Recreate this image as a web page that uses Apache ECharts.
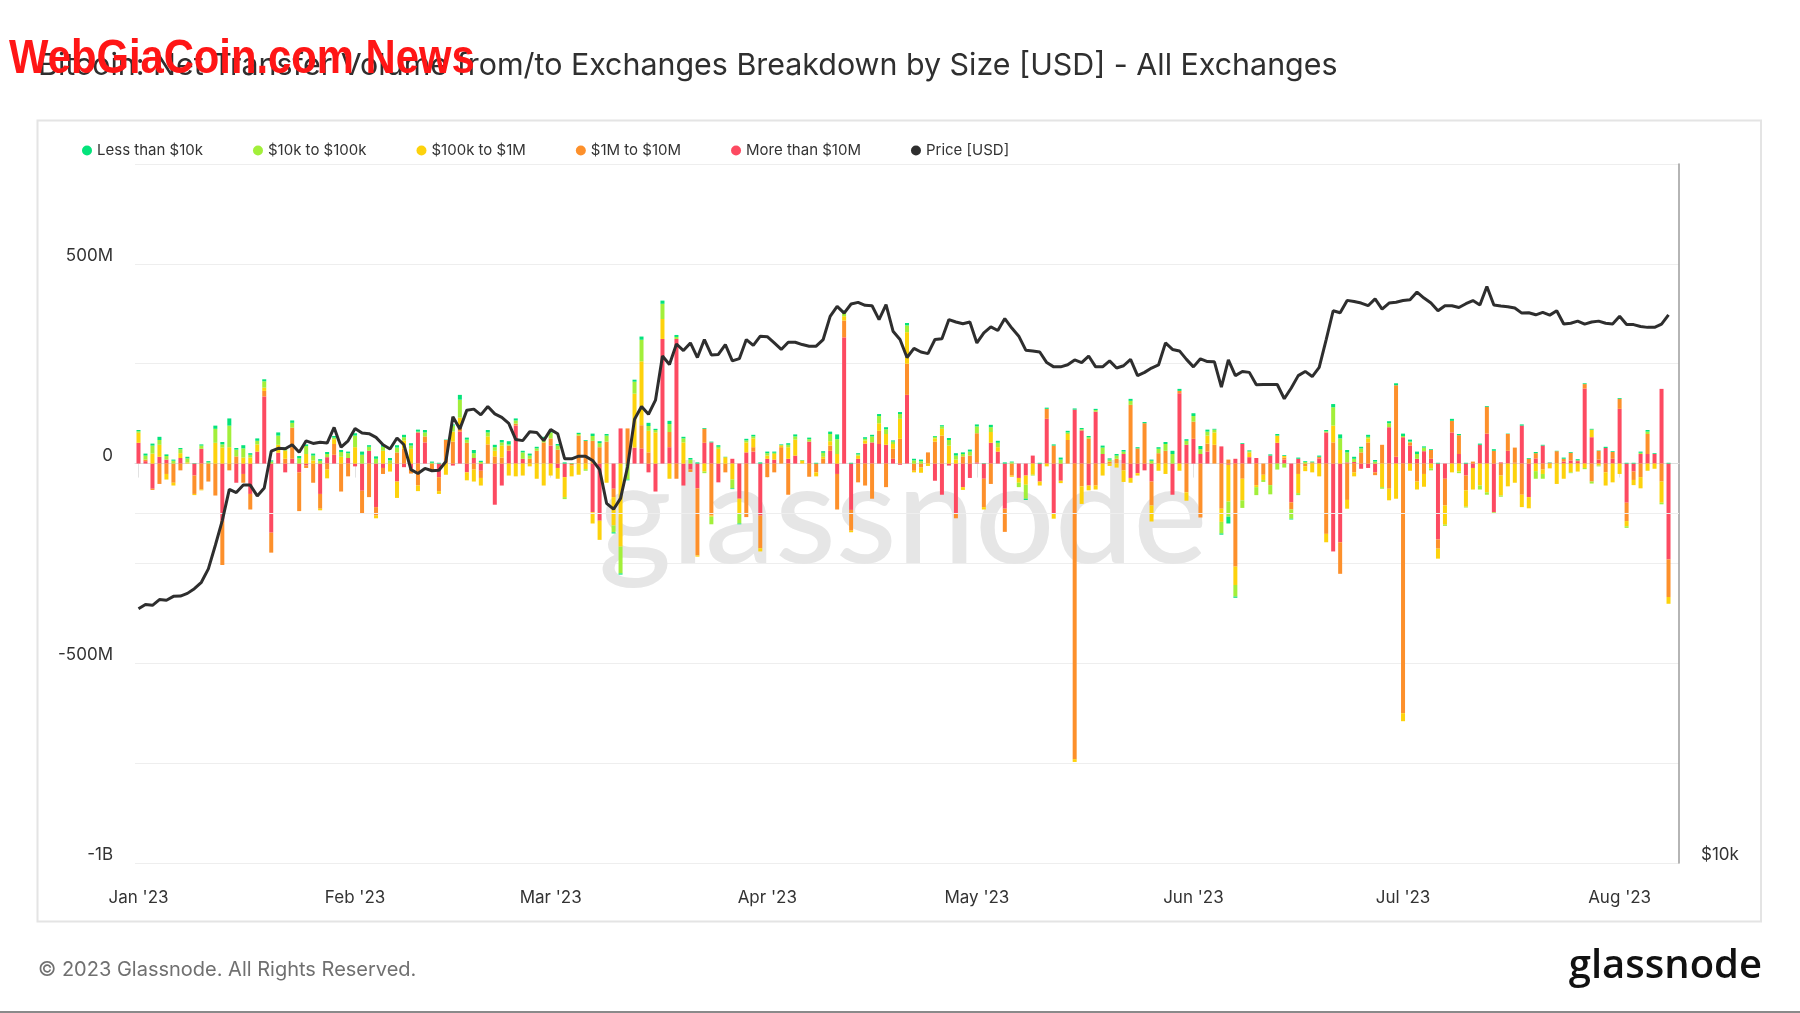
<!DOCTYPE html>
<html><head><meta charset="utf-8">
<script src="https://cdn.jsdelivr.net/npm/echarts@6/dist/echarts.min.js"></script>
<style>html,body{margin:0;padding:0;background:#fff;}#c{width:1800px;height:1013px;}</style>
</head><body><div id="c"></div>
<script>
// Daily net transfer volume by size band, in millions of USD (Jan 1 2023 .. Aug 8 2023)
const red = [52,6,-63,17,10,0,14,0,-30,37, 0,0,-143,0,-48,-26,-76,30,168,-173, 27,-22,12,-22,-5,0,-76,16,22,0, 14,-7,-68,32,-109,-11,0,-45,-9,-13, 78,53,0,-34,0,-5,80,-22,14,-18, 0,-103,-55,32,95,12,0,0,0,45, -11,-34,0,0,0,-122,-143,0,-63,88, 0,40,38,-22,-70,312,41,312,-55,-15, -62,52,53,-47,0,12,-88,28,30,-130, 12,10,0,12,20,0,55,0,0,32, -26,316,-116,12,50,53,49,47,12,-3, 172,0,0,0,-43,-78,-5,-126,-59,-36, 3,-38,52,30,-113,0,-36,-30,20,-45, 112,-126,-43,0,135,83,-55,130,24,0, 0,24,-36,-24,-17,-45,0,0,-78,176, 47,62,24,30,0,43,-3,12,49,16, 14,0,20,52,10,-97,12,0,0,13, 78,-220,-197,3,4,-13,-11,-22,0,91, 17,66,45,12,31,12,-190,-38,78,24, -30,-11,47,75,-122,3,32,2,95,-84, 13,45,2,0,5,8,6,188,66,10, 39,12,137,-98,-20,24,24,24,187,-240];
const orange = [0,4,-3,-51,-26,-48,-17,0,-46,-65, -45,-80,-111,-17,18,-22,-39,0,14,-50, 0,12,78,-97,-6,-48,-37,-15,27,-70, -32,0,-58,-84,-21,-15,0,28,37,-12, -55,15,-20,-35,59,55,10,52,-15,-18, 48,18,15,13,5,0,12,32,53,18, 35,0,-5,70,57,57,41,55,-21,0, 88,0,58,28,0,0,38,-38,0,-6, -168,35,-130,0,-22,0,0,-134,11,-82, -34,-22,41,-78,0,0,-33,-22,12,13, -89,42,-52,-47,-55,-88,33,-59,25,62, 78,-18,-10,28,55,70,0,-11,18,20, 73,-71,-51,0,-58,-30,0,0,0,0, 25,45,0,59,-740,-57,62,-55,0,5, 12,-17,147,38,101,-60,26,32,0,6, -72,43,-135,20,47,-113,10,-258,-38,0, -54,-28,-54,0,5,-18,-26,-7,3,4, -176,53,-79,-91,-22,28,53,-7,47,-63, 179,-625,8,-45,-26,22,-23,-67,29,47, -37,5,0,67,32,-30,42,38,-78,12, 13,-15,0,31,7,19,2,11,-45,22, -22,17,25,-46,-21,-34,50,0,-45,-94];
const yellow = [25,0,25,30,-14,-7,12,3,-3,-2, 0,52,40,41,0,15,15,18,8,0, 20,20,0,0,24,8,-4,-22,12,17, 0,41,0,0,-7,32,-20,-41,21,37, -14,0,0,-7,-28,25,25,-20,-30,-19, 20,14,30,-30,-32,-30,-7,-38,-55,-30, -27,-50,-27,-28,-14,-28,-48,-48,-71,-208, 0,135,160,54,78,50,-38,0,53,0, -3,-20,-3,37,16,-40,-37,25,22,-8, 8,14,5,29,40,8,0,-10,5,11, 24,11,-4,8,8,0,19,27,12,50, 79,-4,-13,-6,8,17,45,10,-7,0, 0,-6,27,11,0,-3,-12,-23,-28,-10, -7,-12,-6,15,-7,-44,-12,-10,-30,-6, -10,-29,-12,-6,0,-40,-18,-26,0,-18, -21,0,0,20,31,-33,-92,-46,-54,12, -5,-13,0,18,4,0,-48,-12,-22,-32, -21,42,34,-22,-10,0,10,0,-59,-29, -88,-20,-18,-20,-32,-12,-25,-48,-22,-20, -41,-54,-55,-72,0,-50,-57,-48,-31,-28, -19,-11,-12,-51,-38,-22,-20,-11,19,-5, -33,-47,-26,-13,-13,-28,-18,-13,-53,-17];
const lime = [4,10,20,12,9,7,10,10,0,8, 3,35,8,54,17,23,7,9,16,5, 23,5,12,13,20,12,7,8,4,12, 12,29,22,10,12,10,8,12,8,8, 2,10,2,0,0,15,45,8,12,4, 10,9,8,3,8,16,8,6,10,15, 10,-5,0,4,-4,12,10,15,-17,-67, -40,30,54,12,6,38,20,5,10,10, 0,-4,-19,5,0,-22,-25,5,5,0, 6,3,0,6,8,0,6,0,10,18, 37,10,0,3,4,15,18,12,6,12, 17,8,6,0,4,6,14,10,6,10, 17,0,12,11,0,3,-11,-35,-2,0, 0,0,10,4,0,3,4,4,16,5, 8,6,10,0,0,7,11,17,24,0, 10,14,12,10,7,-29,-38,-29,-19,3, -20,-5,-23,-15,-10,-23,-5,4,0,0, 3,46,29,25,8,10,4,5,-4,10, 0,3,2,12,9,-5,0,-3,0,-4, -2,0,-10,-6,-4,-3,0,0,0,0, -19,-12,0,0,0,-2,0,-3,-5,-2, 0,0,0,-4,0,3,6,0,-4,0];
const green = [3,5,5,8,4,3,3,4,1,3, 3,8,6,18,4,8,4,6,5,3, 8,4,6,6,4,5,4,5,4,5, 4,6,8,4,6,5,6,6,6,6, 5,6,3,2,1,3,12,5,8,3, 6,6,6,8,5,4,5,4,4,5, 4,3,1,3,2,6,5,4,-3,-3, -2,5,8,8,3,8,8,5,4,4, 3,2,2,4,1,-2,-2,4,4,3, 4,3,2,4,5,1,4,2,4,6, 12,4,2,3,4,4,5,5,3,5, 6,4,4,0,2,3,5,6,4,5, 5,1,6,5,3,2,0,-3,0,2, 3,3,5,4,3,3,3,3,5,3, 4,4,5,3,3,3,4,5,8,5, 4,7,8,5,2,-3,-17,-3,2,2, 0,0,3,4,2,-2,3,2,2,3, 3,8,10,6,5,4,5,4,0,5, 5,6,5,6,3,2,2,0,5,3, 2,0,3,2,4,0,1,0,3,2, 3,2,1,1,3,2,3,2,2,1, 3,2,2,2,2,3,4,2,0,2];
// BTC price, USD
const price = [16560,16700,16670,16860,16840,16970,16980,17070,17230,17450, 17920,18780,19730,20980,20850,21160,21160,20710,21040,22630, 22760,22740,22920,22580,23100,22980,23040,23000,23720,22810, 23100,23670,23460,23430,23260,22920,22730,23230,22920,21820, 21650,21870,21770,21790,22170,24230,23650,24550,24600,24320, 24730,24370,24200,23910,23160,23110,23520,23490,23110,23620, 23430,22290,22290,22410,22400,22220,21820,20410,20170,20610, 21940,24110,24730,24350,25040,27330,26880,27990,27630,28050, 27250,28240,27390,27420,27960,27070,27190,28240,27910,28430, 28400,28050,27690,28090,28090,27960,27870,27870,28240,29570, 30160,29760,30300,30400,30220,30200,29380,30260,28710,28240, 27250,27750,27550,27460,28240,28280,29380,29240,29140,29240, 28050,28620,28960,28750,29440,28890,28430,27650,27610,27550, 26980,26750,26750,26860,27120,26980,27330,26750,26750,27070, 26690,26810,27150,26290,26460,26690,26850,28050,27690,27610, 27150,26750,27180,27030,27020,25700,27120,26290,26510,26460, 25820,25830,25830,25830,25110,25650,26290,26510,26240,26720, 28240,29900,29780,30520,30450,30360,30200,30610,30000,30360, 30410,30510,30560,31030,30660,30360,29900,30200,30200,30090, 30320,30510,30240,31370,30240,30180,30140,30060,29760,29780, 29660,29800,29640,29900,29120,29170,29290,29120,29240,29290, 29170,29120,29570,29090,29090,28980,28930,28930,29120,29660];
const leftTickLabels = {'500':'500M','0':'0','-500':'-500M','-1000':'-1B'};
const priceGridValue = 20000;
const monthNames = ['Jan','Feb','Mar','Apr','May','Jun','Jul','Aug','Sep','Oct','Nov','Dec'];

const dates = [];
for (let i = 0; i < 221; i++) {
  const d = new Date(Date.UTC(2023, 0, 1 + i));
  dates.push(d.toISOString().slice(0, 10));
}
const isMonthStart = (idx, val) => val.slice(8) === '01';
const FONT = 'Inter, Roboto, sans-serif';
const COL = {green:'#04e37b', lime:'#a2ef3a', yellow:'#fdd20c', orange:'#fd902b', red:'#fd4a61', price:'#2e2e2e'};

function bar(name, data, color) {
  return {name, type:'bar', stack:'flow', data, barWidth:4, yAxisIndex:0,
    itemStyle:{color}, emphasis:{disabled:true}};
}

const chart = echarts.init(document.getElementById('c'), null, {renderer:'canvas'});
chart.setOption({
  animation:false,
  backgroundColor:'#ffffff',
  grid:{left:135, right:121, top:164, bottom:150, containLabel:false},
  legend:{
    data:['Less than $10k','$10k to $100k','$100k to $1M','$1M to $10M','More than $10M','Price [USD]'],
    left:77, top:138, icon:'circle', itemWidth:10, itemHeight:10, itemGap:50,
    textStyle:{fontSize:15, color:'#333', fontFamily:FONT}
  },
  xAxis:{
    type:'category', data:dates, boundaryGap:true,
    axisLine:{lineStyle:{color:'#dedede', width:1}},
    axisTick:{show:true, length:14, alignWithLabel:true, interval:isMonthStart, lineStyle:{color:'#e2e2e2'}},
    axisLabel:{interval:isMonthStart, margin:26, fontSize:17, color:'#333', fontFamily:FONT,
      formatter:v => monthNames[parseInt(v.slice(5,7),10)-1] + " '23"},
    splitLine:{show:false}
  },
  yAxis:[
    {type:'value', min:-1000, max:750, interval:250, position:'left',
      axisLine:{show:false}, axisTick:{show:false},
      splitLine:{show:true, lineStyle:{color:'#eeeeee', width:1}},
      axisLabel:{formatter:v => leftTickLabels[String(v)] || '', fontSize:17, lineHeight:16, color:'#333',
        fontFamily:FONT, margin:22, verticalAlign:'bottom', showMaxLabel:false}},
    {type:'log', logBase:10, min:10000, max:40000, position:'right',
      axisLine:{show:true, lineStyle:{color:'#9c9c9c', width:1.5}}, axisTick:{show:false},
      splitLine:{show:false},
      axisLabel:{formatter:v => Math.abs(v-10000) < 1 ? '$10k' : '', fontSize:17, lineHeight:16, color:'#333',
        fontFamily:FONT, margin:22, verticalAlign:'bottom', showMaxLabel:false}}
  ],
  series:[
    {name:'grid20k', type:'line', yAxisIndex:1, data:[], z:0, silent:true,
      markLine:{silent:true, symbol:'none', label:{show:false},
        lineStyle:{color:'#eeeeee', width:1, type:'solid'}, data:[{yAxis:priceGridValue}]}},
    bar('More than $10M', red, COL.red),
    bar('$1M to $10M', orange, COL.orange),
    bar('$100k to $1M', yellow, COL.yellow),
    bar('$10k to $100k', lime, COL.lime),
    bar('Less than $10k', green, COL.green),
    {name:'Price [USD]', type:'line', yAxisIndex:1, data:price, showSymbol:false, symbol:'circle',
      lineStyle:{color:COL.price, width:3}, itemStyle:{color:COL.price}, z:5}
  ],
  graphic:[
    {type:'rect', z:-10, silent:true, shape:{x:37.5, y:120.5, width:1723.5, height:801},
      style:{fill:'none', stroke:'#e4e4e4', lineWidth:2}},
    {type:'text', z:1, silent:true, x:903, y:448,
      style:{text:'glassnode', align:'center', verticalAlign:'top',
        font:'500 140px Lato, "Open Sans", sans-serif', fill:'#e6e6e6'}},
    {type:'text', z:10, silent:true, x:38, y:66,
      style:{text:'Bitcoin: Net Transfer Volume from/to Exchanges Breakdown by Size [USD] - All Exchanges',
        verticalAlign:'middle', font:'400 30.4px Inter, Roboto, sans-serif', fill:'#2f2f2f'}},
    {type:'text', z:11, silent:true, x:9, y:60, scaleX:0.87, scaleY:1,
      style:{text:'WebGiaCoin.com News', verticalAlign:'middle',
        font:'bold 48px "Liberation Sans Narrow", "Liberation Sans", sans-serif', fill:'#ff1616'}},
    {type:'text', z:10, silent:true, x:38, y:970,
      style:{text:'\u00A9 2023 Glassnode. All Rights Reserved.', verticalAlign:'middle',
        font:'400 20px Inter, Roboto, sans-serif', fill:'#707070'}},
    {type:'text', z:10, silent:true, x:1762, y:967,
      style:{text:'glassnode', align:'right', verticalAlign:'middle',
        font:'600 40px "Open Sans", Lato, sans-serif', fill:'#111111'}},
    {type:'rect', z:10, silent:true, shape:{x:0, y:1011, width:1800, height:2}, style:{fill:'#8a8a8a'}}
  ]
});
</script>
</body></html>
